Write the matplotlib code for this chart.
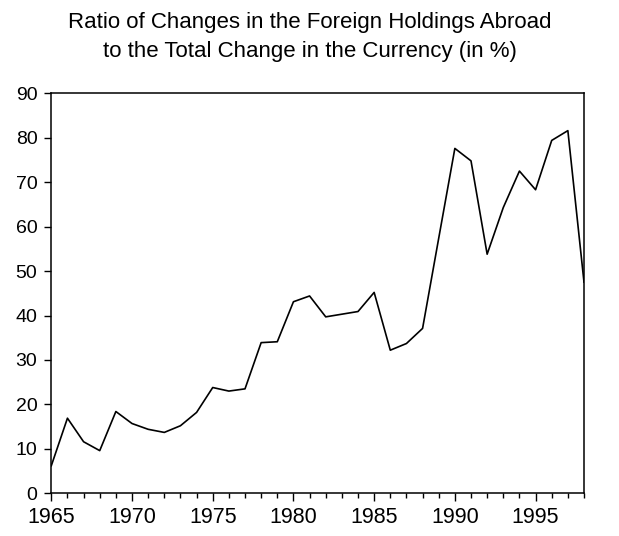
import matplotlib
matplotlib.use("Agg")
import matplotlib.pyplot as plt
from matplotlib.ticker import MultipleLocator

plt.rcParams['font.family'] = ['Liberation Sans', 'DejaVu Sans']

# Years and ratio values (in %)
years = list(range(1965, 1999))
ratio = [6.2, 16.9, 11.6, 9.6, 18.4, 15.7, 14.4, 13.7, 15.2, 18.2,
         23.8, 23.0, 23.5, 33.9, 34.1, 43.1, 44.4, 39.7, 40.3, 40.9,
         45.2, 32.2, 33.7, 37.1, 57.4, 77.6, 74.8, 53.8, 64.3, 72.5,
         68.3, 79.4, 81.6, 47.5]
x_ticks = [1965, 1970, 1975, 1980, 1985, 1990, 1995]
y_ticks = [0, 10, 20, 30, 40, 50, 60, 70, 80, 90]

title_lines = ["Ratio of Changes in the Foreign Holdings Abroad",
               "to the Total Change in the Currency (in %)"]

fig = plt.figure(figsize=(6.19, 5.36), dpi=100)
ax = fig.add_axes([51.3 / 619, 1 - 493.3 / 536, (584 - 51.3) / 619, 400 / 536])

ax.plot(years, ratio, color='black', linewidth=1.2)

ax.set_xlim(1965, 1998)
ax.set_ylim(0, 90)
ax.set_xticks(x_ticks)
ax.xaxis.set_minor_locator(MultipleLocator(1))
ax.set_yticks(y_ticks)

ax.tick_params(axis='y', which='major', labelsize=14, direction='out',
               length=5, width=1, pad=5)
ax.tick_params(axis='x', which='major', labelsize=15.5, direction='out',
               length=6, width=1, pad=4)
ax.tick_params(axis='x', which='minor', direction='out', length=3.5, width=1)
for s in ax.spines.values():
    s.set_linewidth(1.1)

# title, one line at a time so the baselines sit where they should
fig.text(0.5, 1 - 28 / 536, title_lines[0], ha='center', va='baseline', fontsize=16)
fig.text(0.5, 1 - 57 / 536, title_lines[1], ha='center', va='baseline', fontsize=16)

fig.savefig("out.png", dpi=100)
